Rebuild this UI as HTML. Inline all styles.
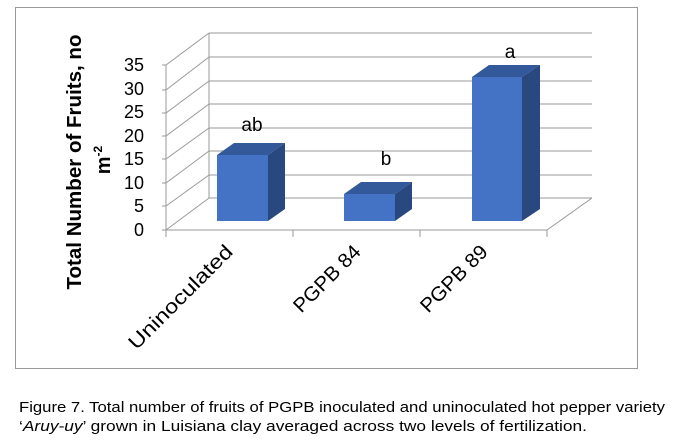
<!DOCTYPE html>
<html><head><style>
body{margin:0;background:#fff;width:678px;height:437px;overflow:hidden}
svg text{font-family:"Liberation Sans",sans-serif}
</style></head><body>
<svg width="678" height="437" viewBox="0 0 678 437">
<rect x="15.5" y="7.5" width="622" height="361" fill="#fff" stroke="#999"/>
<g stroke="#999" stroke-width="1" fill="none">
<path d="M209 33H592M209 57H592M209 81H592M209 104H592M209 128H592M209 151H592M209 175H592M209 198H592"/>
<path d="M166 65L209 33M166 90L209 57M166 113L209 81M166 136L209 104M166 159L209 128M166 183L209 151M166 206L209 175M166 230L209 198"/>
<path d="M166 65V230H547L592 198"/>
<path d="M209 33V198"/>
<path d="M162 65H166M162 90H166M162 113H166M162 136H166M162 159H166M162 183H166M162 206H166M162 230H166"/>
<path d="M166 230V237M293 230V237M420 230V237M547 230V237"/>
</g>
<g>
<polygon points="217,155 234,143 285,143 268,155" fill="#34599b"/>
<polygon points="268,155 285,143 285,209 268,221" fill="#2a4880"/>
<rect x="217" y="155" width="51" height="66" fill="#4472c4"/>
<polygon points="344,194 361,182 412,182 395,194" fill="#34599b"/>
<polygon points="395,194 412,182 412,209 395,221" fill="#2a4880"/>
<rect x="344" y="194" width="51" height="27" fill="#4472c4"/>
<polygon points="472,77 489,65 540,65 522,77" fill="#34599b"/>
<polygon points="522,77 540,65 540,209 522,221" fill="#2a4880"/>
<rect x="472" y="77" width="50" height="144" fill="#4472c4"/>
</g>
<g font-size="19" fill="#000" text-anchor="middle">
<text x="252" y="131">ab</text>
<text x="386" y="165">b</text>
<text x="510" y="58">a</text>
</g>
<g font-size="18" text-anchor="end" fill="#000">
<text x="144" y="71">35</text><text x="144" y="95">30</text><text x="144" y="118">25</text><text x="144" y="142">20</text><text x="144" y="165">15</text><text x="144" y="189">10</text><text x="144" y="212">5</text><text x="144" y="236">0</text>
</g>
<g font-size="20" font-weight="bold" text-anchor="middle">
<text transform="translate(81,162) rotate(-90)" textLength="255" lengthAdjust="spacingAndGlyphs">Total Number of Fruits, no</text>
<text transform="translate(110,160) rotate(-90)">m<tspan font-size="12" dy="-8">-2</tspan></text>
</g>
<g font-size="20" text-anchor="end">
<text transform="translate(234,253) rotate(-45)" textLength="138" lengthAdjust="spacingAndGlyphs">Uninoculated</text>
<text transform="translate(362,253) rotate(-45)" textLength="86" lengthAdjust="spacingAndGlyphs">PGPB 84</text>
<text transform="translate(489,253) rotate(-45)" textLength="86" lengthAdjust="spacingAndGlyphs">PGPB 89</text>
</g>
<g font-size="15">
<text x="19" y="412" textLength="646" lengthAdjust="spacingAndGlyphs">Figure 7.  Total number of fruits of PGPB inoculated and uninoculated hot pepper variety</text>
<text x="19" y="431" textLength="568" lengthAdjust="spacingAndGlyphs">‘<tspan font-style="italic">Aruy-uy</tspan>’ grown in Luisiana clay averaged across two levels of fertilization.</text>
</g>
</svg>
</body></html>
